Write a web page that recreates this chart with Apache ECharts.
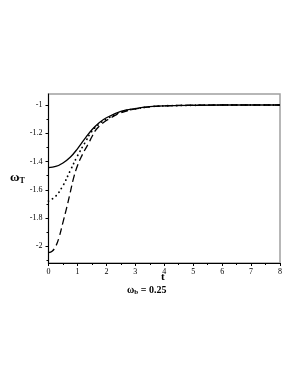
<!DOCTYPE html>
<html><head><meta charset="utf-8">
<script src="https://cdn.jsdelivr.net/npm/echarts@6/dist/echarts.min.js"></script>
<style>html,body{margin:0;padding:0;background:#fff}#c{width:302px;height:391px}</style>
</head><body><div id="c"></div>
<script>
const tSolid  = [0, 0.25, 0.5, 0.75, 1, 1.25, 1.5, 1.75, 2, 2.5, 3, 3.5, 4, 5, 6, 7, 8];
const vSolid  = [-1.443, -1.435, -1.41, -1.37, -1.31, -1.24, -1.175, -1.125, -1.09, -1.045, -1.025, -1.012, -1.006, -1.002, -1.0, -1.0, -1.0];
const tDot    = [0, 0.25, 0.5, 0.75, 1, 1.25, 1.5, 1.75, 2, 2.5, 3, 3.5, 4, 5, 6, 7, 8];
const vDot    = [-1.68, -1.645, -1.57, -1.465, -1.36, -1.27, -1.185, -1.135, -1.10, -1.05, -1.027, -1.013, -1.006, -1.002, -1.0, -1.0, -1.0];
const tDash   = [0, 0.125, 0.25, 0.375, 0.5, 0.625, 0.75, 0.875, 1, 1.125, 1.25, 1.375, 1.5, 1.625, 1.75, 2, 2.5, 3, 3.5, 4, 5, 6, 7, 8];
const vDash   = [-2.045, -2.035, -2.0, -1.93, -1.83, -1.73, -1.62, -1.51, -1.43, -1.37, -1.32, -1.275, -1.225, -1.18, -1.15, -1.11, -1.055, -1.028, -1.013, -1.006, -1.001, -1.0, -1.0, -1.0];
const yLabels = [-2, -1.8, -1.6, -1.4, -1.2, -1];
const yMinor  = [-2.1, -1.9, -1.7, -1.5, -1.3, -1.1];
const xLabels = [0, 1, 2, 3, 4, 5, 6, 7, 8];
const xMinor  = [0.5, 1.5, 2.5, 3.5, 4.5, 5.5, 6.5, 7.5];

const zip = (a, b) => a.map((x, i) => [x, b[i]]);
const font = 'Liberation Serif';
const YMIN = -2.118, YMAX = -0.922;

const chart = echarts.init(document.getElementById('c'));
const baseX = {
  type: 'value', min: 0, max: 8, splitLine: {show: false},
  axisLine: {show: true, onZero: false, lineStyle: {color: '#000', width: 1}}
};
const baseY = {
  type: 'value', min: YMIN, max: YMAX, splitLine: {show: false},
  axisLine: {show: true, onZero: false, lineStyle: {color: '#000', width: 1}}
};
chart.setOption({
  animation: false,
  grid: {left: 48.5, right: 22, top: 94, bottom: 128, show: true, borderColor: '#a0a0a0', borderWidth: 1.5},
  xAxis: [
    Object.assign({}, baseX, {
      axisTick: {show: true, length: 3, customValues: xLabels, lineStyle: {color: '#000'}},
      axisLabel: {customValues: xLabels, fontFamily: font, fontSize: 8, color: '#000', margin: 5}
    }),
    Object.assign({}, baseX, {
      position: 'bottom',
      axisLine: {show: false},
      axisTick: {show: true, length: 2, customValues: xMinor, lineStyle: {color: '#000'}},
      axisLabel: {show: false}
    })
  ],
  yAxis: [
    Object.assign({}, baseY, {
      axisTick: {show: true, length: 3, customValues: yLabels, lineStyle: {color: '#000'}},
      axisLabel: {customValues: yLabels, fontFamily: font, fontSize: 8, color: '#000', margin: 6}
    }),
    Object.assign({}, baseY, {
      position: 'left',
      axisLine: {show: false},
      axisTick: {show: true, length: 2, customValues: yMinor, lineStyle: {color: '#000'}},
      axisLabel: {show: false}
    })
  ],
  series: [
    {type: 'line', data: zip(tSolid, vSolid), smooth: 0.4, showSymbol: false,
     lineStyle: {color: '#000', width: 1.3}},
    {type: 'line', data: zip(tDot, vDot), smooth: 0.4, showSymbol: false,
     lineStyle: {color: '#000', width: 1.8, type: [0.1, 4.5], cap: 'round'}},
    {type: 'line', data: zip(tDash, vDash), smooth: 0.4, showSymbol: false,
     lineStyle: {color: '#000', width: 1.3, type: [7, 4]}}
  ],
  graphic: [
    {type: 'text', left: 10, top: 171, style: {
      text: '{w|ω}{s|T}', rich: {
        w: {fontFamily: font, fontSize: 13, fontWeight: 'bold', fill: '#000'},
        s: {fontFamily: font, fontSize: 8, fontWeight: 'bold', fill: '#000', verticalAlign: 'bottom', padding: [6, 0, 0, 0]}
      }}},
    {type: 'text', left: 161, top: 272, style: {
      text: 't', fontFamily: font, fontSize: 11, fontWeight: 'bold', fill: '#000'}},
    {type: 'text', left: 127, top: 285, style: {
      text: '{w|ω}{s|b}{w| = 0.25}', rich: {
        w: {fontFamily: font, fontSize: 10, fontWeight: 'bold', fill: '#000'},
        s: {fontFamily: font, fontSize: 7, fontWeight: 'bold', fill: '#000', padding: [5, 0, 0, 0]}
      }}}
  ]
});
</script></body></html>
